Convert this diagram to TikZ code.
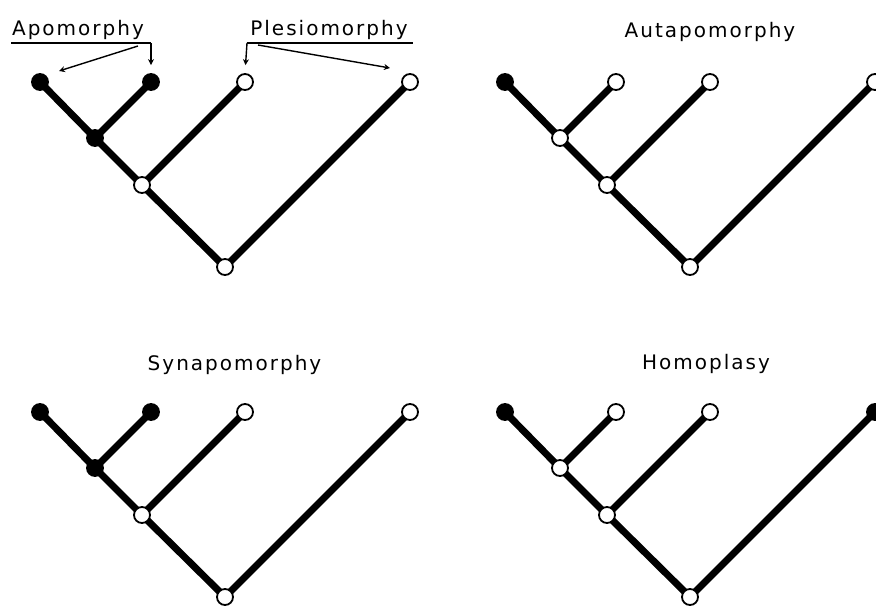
\documentclass[tikz,border=0pt]{standalone}
\usepackage{fontspec}
\setmainfont{DejaVu Sans}[LetterSpace=10]
\usetikzlibrary{arrows.meta,backgrounds}
\tikzset{
  tip/.style={circle,draw=black,line width=1.8pt,minimum size=16pt,inner sep=0pt},
  edge/.style={line width=7pt,black},
  lbl/.style={font=\fontsize{20}{24}\selectfont,anchor=base,inner sep=0pt},
  ptr/.style={line width=1.4pt,-{Stealth[length=6pt,width=6pt]}},
  rule/.style={line width=1.4pt},
  pics/clade/.style n args={7}{code={
    \node[tip,fill=#1] (-A) at (-185,-185) {};
    \node[tip,fill=#2] (-B) at (-74,-185) {};
    \node[tip,fill=#3] (-C) at (20,-185) {};
    \node[tip,fill=#4] (-D) at (185,-185) {};
    \node[tip,fill=#5] (-n1) at (-130,-129) {};
    \node[tip,fill=#6] (-n2) at (-83,-82) {};
    \node[tip,fill=#7] (-r) at (0,0) {};
    \begin{pgfonlayer}{background}
      \draw[edge] (-A.center) -- (-n1.center) -- (-n2.center) -- (-r.center) -- (-D.center);
      \draw[edge] (-B.center) -- (-n1.center);
      \draw[edge] (-C.center) -- (-n2.center);
    \end{pgfonlayer}
  }}
}
\begin{document}
\begin{tikzpicture}[x=1pt,y=-1pt]
\useasboundingbox (0,0) rectangle (876,606);
\clip (0,0) rectangle (876,606);

\pic (t1) at (225,267) {clade={black}{black}{white}{white}{black}{white}{white}};
\pic (t2) at (690,267) {clade={black}{white}{white}{white}{white}{white}{white}};
\pic (t3) at (225,597) {clade={black}{black}{white}{white}{black}{white}{white}};
\pic (t4) at (690,597) {clade={black}{white}{white}{black}{white}{white}{white}};

% titles
\node[lbl] (apo) at (78,35) {Apomorphy};
\node[lbl] (ple) at (329,35) {Plesiomorphy};
\node[lbl] (aut) at (710,37) {Autapomorphy};
\node[lbl] (syn) at (234.5,370) {Synapomorphy};
\node[lbl] (hom) at (706,369) {Homoplasy};

% apomorphy bracket and arrows
\coordinate (apoL) at (11,43);
\coordinate (apoR) at (151,43);
\coordinate (apoS) at (138,46);
\coordinate (apoE) at (59,71);
\draw[rule] (apoL) -- (apoR);
\draw[ptr,shorten >=8pt] (apoR) -- (t1-B.north);
\draw[ptr] (apoS) -- (apoE);

% plesiomorphy bracket and arrows
\coordinate (pleL) at (247,43);
\coordinate (pleR) at (413,43);
\coordinate (pleS) at (258,45);
\coordinate (pleE) at (390,68);
\draw[rule] (pleL) -- (pleR);
\draw[ptr,shorten >=8pt] (pleL) -- (t1-C.north);
\draw[ptr] (pleS) -- (pleE);
\end{tikzpicture}
\end{document}
